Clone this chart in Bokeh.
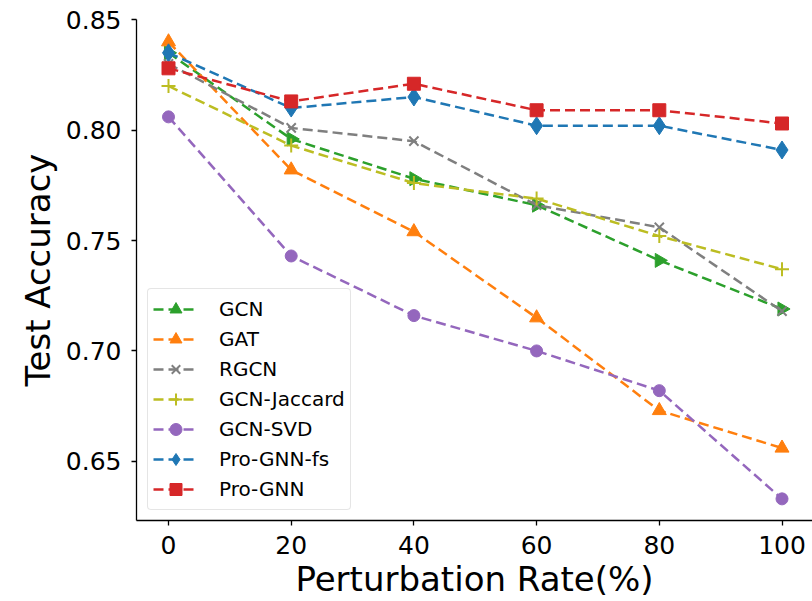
import math
from bokeh.plotting import figure
from bokeh.models import Range1d, FixedTicker
from bokeh.embed import file_html
from bokeh.resources import INLINE

# ---- data ----
rates = [0, 20, 40, 60, 80, 100]
gcn = [0.835, 0.796, 0.778, 0.766, 0.741, 0.719]
gat = [0.840, 0.782, 0.754, 0.715, 0.673, 0.656]
rgcn = [0.830, 0.801, 0.795, 0.766, 0.756, 0.718]
gcn_jaccard = [0.820, 0.793, 0.776, 0.769, 0.752, 0.737]
gcn_svd = [0.806, 0.743, 0.716, 0.700, 0.682, 0.633]
pro_gnn_fs = [0.835, 0.810, 0.815, 0.802, 0.802, 0.791]
pro_gnn = [0.828, 0.813, 0.821, 0.809, 0.809, 0.803]

x_ticks = [0, 20, 40, 60, 80, 100]
y_ticks = [0.65, 0.70, 0.75, 0.80, 0.85]
y_tick_labels = ["0.65", "0.70", "0.75", "0.80", "0.85"]

series = [
    ("GCN", gcn, "#2ca02c", "triangle", 14, -math.pi / 2),
    ("GAT", gat, "#ff7f0e", "triangle", 14, 0.0),
    ("RGCN", rgcn, "#7f7f7f", "x", 13, 0.0),
    ("GCN-Jaccard", gcn_jaccard, "#bcbd22", "cross", 14, 0.0),
    ("GCN-SVD", gcn_svd, "#9467bd", "circle", 12, 0.0),
    ("Pro-GNN-fs", pro_gnn_fs, "#1f77b4", "diamond", 18, 0.0),
    ("Pro-GNN", pro_gnn, "#d62728", "square", 13, 0.0),
]

FONT = "DejaVu Sans"

p = figure(
    width=812, height=601,
    x_range=Range1d(-5.216, 104.97),
    y_range=Range1d(0.6232, 0.8501),
    output_backend="svg", toolbar_location=None,
    min_border_left=136, min_border_right=0,
    min_border_top=19, min_border_bottom=78,
)
p.outline_line_color = None
p.xgrid.visible = False
p.ygrid.visible = False
p.background_fill_color = "white"
p.border_fill_color = "white"

for name, vals, color, marker, size, ang in series:
    p.line(rates, vals, line_color=color, line_width=2.5, line_dash="10 5",
           legend_label=name)
    lw = 2 if marker in ("x", "cross") else 1
    p.scatter(rates, vals, marker=marker, size=size, angle=ang,
              fill_color=color, line_color=color, line_width=lw,
              legend_label=name)

for ax in (p.xaxis[0], p.yaxis[0]):
    ax.axis_line_color = "black"
    ax.axis_line_width = 1.3
    ax.major_tick_line_color = "black"
    ax.major_tick_line_width = 1.3
    ax.major_tick_out = 5
    ax.major_tick_in = 0
    ax.minor_tick_line_color = None
    ax.major_label_text_font = FONT
    ax.major_label_text_font_size = "25px"
    ax.major_label_text_color = "black"
    ax.axis_label_text_font = FONT
    ax.axis_label_text_font_size = "34px"
    ax.axis_label_text_font_style = "normal"
    ax.axis_label_text_color = "black"

p.xaxis.ticker = FixedTicker(ticks=x_ticks)
p.yaxis.ticker = FixedTicker(ticks=y_ticks)
p.yaxis.major_label_overrides = {t: l for t, l in zip(y_ticks, y_tick_labels)}
p.xaxis.axis_label = "Perturbation Rate(%)"
p.yaxis.axis_label = "Test Accuracy"
p.xaxis.major_label_standoff = 10
p.xaxis.axis_label_standoff = 2
p.yaxis.major_label_standoff = 10
p.yaxis.axis_label_standoff = 5

lg = p.legend[0]
lg.location = (11, 10)
lg.label_text_font = FONT
lg.label_text_font_size = "20px"
lg.label_text_color = "black"
lg.glyph_width = 45
lg.glyph_height = 30
lg.label_height = 30
lg.spacing = 0
lg.padding = 5
lg.margin = 0
lg.label_standoff = 21
lg.border_line_color = "#cccccc"
lg.border_line_width = 1
lg.background_fill_alpha = 0.8
try:
    lg.border_radius = 4
except Exception:
    pass

open("out.html", "w").write(file_html(p, INLINE))
